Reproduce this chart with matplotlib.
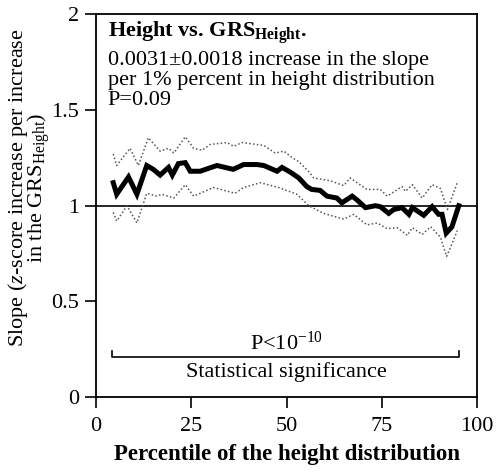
import matplotlib
matplotlib.use("Agg")
import matplotlib.pyplot as plt

plt.rcParams['font.family'] = ['Liberation Serif', 'DejaVu Serif']
plt.rcParams['mathtext.fontset'] = 'custom'
plt.rcParams['mathtext.rm'] = 'Liberation Serif'
plt.rcParams['mathtext.it'] = 'Liberation Serif:italic'
plt.rcParams['mathtext.bf'] = 'Liberation Serif:bold'

# slope estimate along the height distribution
slope_x = [4.5, 5.4, 8.5, 10.7, 13.3, 15, 16.8, 19, 20, 21.6, 23.4, 24.7, 27.3, 31.7,
           36, 38.7, 42.2, 44, 47.5, 48.8, 51, 53.2, 55.3, 56.6, 58.8, 60.6, 63.2,
           64.5, 67.2, 68.5, 70.7, 73.3, 74.6, 76.8, 78.1, 80.3, 82.1, 83, 86, 88.2,
           89.9, 90.8, 91.9, 93.4, 95.2]
slope_y = [1.12, 1.06, 1.15, 1.06, 1.21, 1.19, 1.16, 1.20, 1.16, 1.22, 1.225, 1.18,
           1.18, 1.21, 1.19, 1.215, 1.215, 1.21, 1.18, 1.20, 1.175, 1.145, 1.10, 1.085,
           1.08, 1.05, 1.04, 1.015, 1.05, 1.03, 0.99, 1.0, 0.995, 0.96, 0.98, 0.99,
           0.955, 0.99, 0.95, 0.995, 0.955, 0.955, 0.857, 0.89, 1.0]

# upper confidence bound
upper_x = [4.5, 5.4, 8.9, 11.1, 13.7, 16.8, 19, 20.4, 23.4, 25.6, 27.8, 30, 34.4, 36.1,
           38.3, 44, 47, 49.3, 51.5, 53.2, 56.2, 57.1, 61.5, 65, 66.7, 68.5, 71.1,
           74.6, 76.4, 80.3, 81.2, 83, 85.6, 88.2, 90.4, 92.2, 94.8]
upper_y = [1.27, 1.21, 1.30, 1.21, 1.355, 1.285, 1.30, 1.275, 1.36, 1.30, 1.29, 1.32,
           1.33, 1.31, 1.33, 1.315, 1.275, 1.285, 1.25, 1.23, 1.17, 1.145, 1.13, 1.105,
           1.145, 1.12, 1.085, 1.085, 1.05, 1.10, 1.075, 1.11, 1.04, 1.11, 1.09, 0.98,
           1.12]

# lower confidence bound
lower_x = [4.5, 5.4, 8.1, 10.7, 13.3, 15.9, 17.2, 20.4, 23.4, 25.6, 30.8, 36.5, 38.7,
           43.1, 47.9, 52.7, 55.8, 59.7, 62.3, 65, 67.6, 71.1, 73.8, 76.4, 79.1, 81.7,
           83, 85.6, 87.8, 90.4, 92, 93.4, 94.8]
lower_y = [0.965, 0.92, 1.0, 0.91, 1.065, 1.05, 1.06, 1.04, 1.11, 1.05, 1.095, 1.065,
           1.095, 1.12, 1.095, 1.06, 1.0, 0.96, 0.945, 0.93, 0.955, 0.9, 0.91, 0.88,
           0.885, 0.845, 0.885, 0.85, 0.89, 0.835, 0.735, 0.80, 0.87]

x_ticks = [0, 25, 50, 75, 100]
y_ticks = [0, 0.5, 1, 1.5, 2]
y_tick_labels = ['0', '0.5', '1', '1.5', '2']

fig = plt.figure(figsize=(4.98, 4.74), dpi=100)
ax = fig.add_axes([0.193, 0.162, 0.765, 0.808])

ax.axhline(1, color='black', lw=1.2, zorder=1)
ax.plot(upper_x, upper_y, color='#555555', lw=1.1, ls=(0, (1, 1.5)))
ax.plot(lower_x, lower_y, color='#555555', lw=1.1, ls=(0, (1, 1.5)))
ax.plot(slope_x, slope_y, color='black', lw=3.6, solid_joinstyle='miter')

# significance bracket
ax.plot([4.1, 4.1, 95.2, 95.2], [0.24, 0.21, 0.21, 0.24], color='black', lw=1.2)
ax.text(50, 0.25, r'P<10$^{\mathregular{-10}}$', ha='center', va='baseline', fontsize=16)
ax.text(50, 0.106, 'Statistical significance', ha='center', va='baseline', fontsize=16)

ax.text(3, 1.972, r'Height vs. GRS$_{\mathbf{Height}}$.', ha='left', va='top',
        fontsize=16, fontweight='bold')
ax.text(3, 1.81, '0.0031\u00b10.0018 increase in the slope\n'
        'per 1% percent in height distribution\nP=0.09',
        ha='left', va='top', fontsize=16, linespacing=1.08)

ax.set_xlim(0, 100)
ax.set_ylim(0, 2)
ax.set_xticks(x_ticks)
ax.set_yticks(y_ticks)
ax.set_yticklabels(y_tick_labels)
ax.tick_params(direction='out', length=8, width=1.2, labelsize=16, pad=4)
ax.tick_params(axis='x', pad=6)
for s in ax.spines.values():
    s.set_linewidth(1.3)

ax.set_xlabel('Percentile of the height distribution', fontsize=16.5,
              fontweight='bold', labelpad=6)
fig.text(0.058, 1 - 188 / 474,
         'Slope ($\\it{z}$-score increase per increase\nin the GRS$_{\\mathregular{Height}}$)',
         rotation=90, ha='center', va='center', fontsize=16, multialignment='center',
         linespacing=0.78)

fig.savefig('out.png', dpi=100)
